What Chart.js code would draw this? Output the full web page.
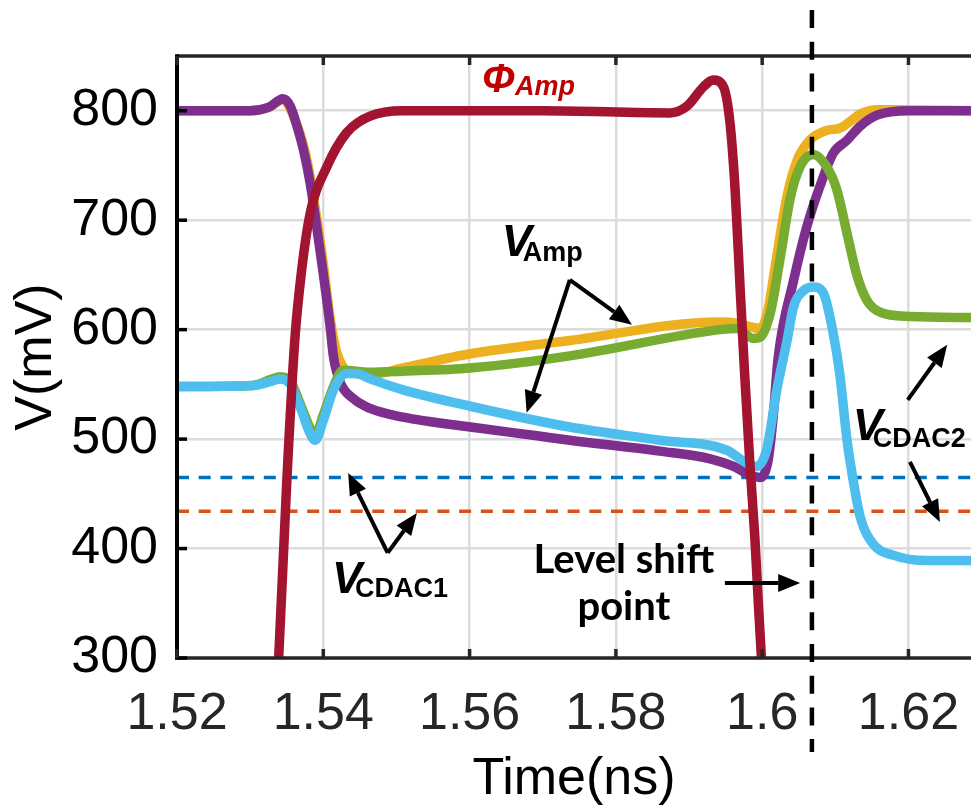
<!DOCTYPE html>
<html>
<head>
<meta charset="utf-8">
<script src="https://cdn.jsdelivr.net/npm/chart.js@4.4.1/dist/chart.umd.min.js"></script>
<style>
  html, body { margin: 0; padding: 0; background: #fff; overflow: hidden; }
  #wrap { width: 971px; height: 809px; }
</style>
</head>
<body>
<div id="wrap"><canvas id="chart"></canvas></div>
<script>
// axis ticks
const xTicks = [1.52, 1.54, 1.56, 1.58, 1.6, 1.62];
const xTickLabels = ["1.52", "1.54", "1.56", "1.58", "1.6", "1.62"];
const yTicks = [300, 400, 500, 600, 700, 800];

// waveforms, time in ns / voltage in mV
const phiT = [1.5330, 1.5339, 1.5350, 1.5361, 1.5370, 1.5382, 1.5405, 1.5432, 1.5464, 1.5509, 1.5700, 1.5874, 1.5897, 1.5920, 1.5933, 1.5947, 1.5956, 1.5963, 1.5970, 1.5976, 1.5983, 1.5990, 1.5995, 1.5999, 1.6004];
const phiV = [200, 300, 460, 590, 652, 706, 749, 780, 795, 800, 800, 798, 804, 822, 828, 822, 789, 728, 636, 560, 480, 410, 347, 300, 240];

const blueT = [1.52, 1.5304, 1.5330, 1.5341, 1.5355, 1.5368, 1.5382, 1.5389, 1.5400, 1.5414, 1.5432, 1.5445, 1.5464, 1.5509, 1.5601, 1.5737, 1.5860, 1.5951, 1.5979, 1.5992, 1.6006, 1.6020, 1.6034, 1.6043, 1.6057, 1.6070, 1.6084, 1.6097, 1.6106, 1.6116, 1.6125, 1.6134, 1.6152, 1.6179, 1.6225, 1.6290];
const blueV = [548, 549, 553, 555, 550, 530, 505, 499, 517, 545, 560, 560, 555, 545, 530, 511, 499, 490, 478, 475, 490, 545, 590, 621, 636, 639, 633, 597, 560, 499, 460, 429, 404, 394, 389, 389];

const greenT = [1.52, 1.5304, 1.5330, 1.5341, 1.5355, 1.5368, 1.5382, 1.5389, 1.5400, 1.5414, 1.5427, 1.5445, 1.5464, 1.5509, 1.5601, 1.5737, 1.5942, 1.5965, 1.5988, 1.5997, 1.6011, 1.6025, 1.6038, 1.6052, 1.6070, 1.6088, 1.6102, 1.6116, 1.6129, 1.6143, 1.6161, 1.6202, 1.6290];
const greenV = [548, 549, 555, 557, 553, 533, 510, 504, 522, 548, 563, 562, 561, 562, 565, 576, 600, 601, 592, 593, 615, 667, 719, 749, 760, 749, 728, 688, 651, 627, 616, 612, 611];

const purpleT = [1.52, 1.5300, 1.5325, 1.5345, 1.5355, 1.5364, 1.5373, 1.5382, 1.5391, 1.5400, 1.5409, 1.5414, 1.5423, 1.5441, 1.5464, 1.5509, 1.5601, 1.5692, 1.5737, 1.5860, 1.5929, 1.5961, 1.5984, 1.5997, 1.6008, 1.6015, 1.6022, 1.6043, 1.6061, 1.6079, 1.6097, 1.6116, 1.6134, 1.6157, 1.6202, 1.6290];
const purpleV = [800, 800, 803, 811, 804, 786, 764, 734, 694, 651, 605, 575, 552, 537, 528, 520, 511, 503, 499, 489, 482, 475, 467, 465, 480, 520, 575, 645, 694, 731, 761, 773, 786, 796, 800, 800];

const yellowT = [1.52, 1.5300, 1.5325, 1.5345, 1.5364, 1.5373, 1.5382, 1.5391, 1.5400, 1.5409, 1.5418, 1.5427, 1.5441, 1.5464, 1.5509, 1.5601, 1.5737, 1.5942, 1.5965, 1.5988, 1.5997, 1.6007, 1.6020, 1.6034, 1.6048, 1.6065, 1.6088, 1.6106, 1.6120, 1.6134, 1.6157, 1.6180, 1.6290];
const yellowV = [800, 800, 803, 810, 787, 768, 740, 702, 660, 612, 580, 566, 560, 559, 565, 578, 590, 607, 606, 602, 601, 615, 667, 722, 755, 773, 782, 784, 790, 797, 801, 801, 800];

// comparator reference levels (dashed)
const refT = [1.52, 1.6290];
const vcdac1Ref = [465, 465];
const vcdac2Ref = [434, 434];
const levelShiftT = 1.6068;

const pts = (t, v) => t.map((x, i) => ({ x: x, y: v[i] }));

const FONT = "'Liberation Sans', Arial, sans-serif";

function seg(ctx, x1, y1, x2, y2) {
  ctx.beginPath();
  ctx.moveTo(x1, y1);
  ctx.lineTo(x2, y2);
  ctx.stroke();
}

function arrow(ctx, x1, y1, x2, y2) {
  const ang = Math.atan2(y2 - y1, x2 - x1);
  const hl = 22, hw = 9;
  const bx = x2 - hl * Math.cos(ang), by = y2 - hl * Math.sin(ang);
  seg(ctx, x1, y1, bx, by);
  ctx.beginPath();
  ctx.moveTo(x2, y2);
  ctx.lineTo(bx + hw * Math.sin(ang), by - hw * Math.cos(ang));
  ctx.lineTo(bx - hw * Math.sin(ang), by + hw * Math.cos(ang));
  ctx.closePath();
  ctx.fill();
}

function subLabel(ctx, px, py, main, sub, mainFont, subFont, dx, dy) {
  ctx.textAlign = "left";
  ctx.textBaseline = "alphabetic";
  ctx.font = mainFont;
  ctx.fillText(main, px, py);
  ctx.font = subFont;
  ctx.fillText(sub, px + dx, py + dy);
}

const overlay = {
  id: "overlay",
  afterDatasetsDraw(chart) {
    const { ctx, chartArea: a, scales: { x, y } } = chart;
    ctx.save();

    // axes box
    ctx.strokeStyle = "#262626";
    ctx.lineWidth = 3.5;
    seg(ctx, a.left, a.top, a.right, a.top);
    seg(ctx, a.left, a.bottom, a.right, a.bottom);
    ctx.strokeStyle = "#000";
    ctx.lineWidth = 4;
    seg(ctx, a.left, a.top - 1.75, a.left, a.bottom + 1.75);

    // inward tick marks
    ctx.lineWidth = 3.5;
    yTicks.forEach((v) => seg(ctx, a.left, y.getPixelForValue(v), a.left + 10, y.getPixelForValue(v)));
    ctx.strokeStyle = "#262626";
    xTicks.forEach((v) => {
      const px = x.getPixelForValue(v);
      seg(ctx, px, a.top, px, a.top + 9);
      seg(ctx, px, a.bottom, px, a.bottom - 9);
    });

    // level shift marker
    const lx = x.getPixelForValue(levelShiftT);
    ctx.strokeStyle = "#000";
    ctx.lineWidth = 4.5;
    ctx.setLineDash([18, 13.7]);
    seg(ctx, lx, a.top - 46, lx, a.bottom + 94);
    ctx.setLineDash([]);

    // annotations
    const P = (t, v) => [x.getPixelForValue(t), y.getPixelForValue(v)];
    ctx.fillStyle = "#000";
    ctx.strokeStyle = "#000";
    ctx.lineWidth = 4;

    let p = P(1.5617, 817.4);
    ctx.fillStyle = "#C00000";
    subLabel(ctx, p[0], p[1], "\u03A6", "Amp", "italic bold 40px " + FONT, "italic bold 27px " + FONT, 33, 3);

    ctx.fillStyle = "#000";
    p = P(1.5644, 667.6);
    subLabel(ctx, p[0], p[1], "V", "Amp", "italic bold 45px " + FONT, "bold 27px " + FONT, 21, 5);
    p = P(1.5412, 359.4);
    subLabel(ctx, p[0], p[1], "V", "CDAC1", "italic bold 45px " + FONT, "bold 27px " + FONT, 23, 4);
    p = P(1.6124, 499.3);
    subLabel(ctx, p[0], p[1], "V", "CDAC2", "italic bold 45px " + FONT, "bold 27px " + FONT, 20, 7);

    ctx.font = "bold 40px Lato, 'Open Sans', sans-serif";
    ctx.textAlign = "center";
    p = P(1.5811, 377.7);
    ctx.fillText("Level shift", p[0], p[1]);
    p = P(1.5811, 334.7);
    ctx.fillText("point", p[0], p[1]);

    const arrows = [
      [1.5737, 645.5, 1.5822, 604.4],
      [1.5737, 645.5, 1.5678, 524.0],
      [1.5488, 396.0, 1.5434, 469.1],
      [1.5488, 396.0, 1.5528, 432.5],
      [1.5949, 368.6, 1.6052, 368.6],
      [1.6199, 535.8, 1.6253, 586.1],
      [1.6202, 479.2, 1.6243, 424.3],
    ];
    arrows.forEach((r) => {
      const s = P(r[0], r[1]), e = P(r[2], r[3]);
      arrow(ctx, s[0], s[1], e[0], e[1]);
    });

    ctx.restore();
  },
};

function curve(data, color) {
  return {
    data: data,
    borderColor: color,
    borderWidth: 9.5,
    pointRadius: 0,
    cubicInterpolationMode: "monotone",
    borderJoinStyle: "round",
    borderCapStyle: "round",
    fill: false,
    clip: 0,
  };
}

function refLine(data, color) {
  return {
    data: data,
    borderColor: color,
    borderWidth: 3.5,
    borderDash: [12, 9.7],
    pointRadius: 0,
    fill: false,
    clip: 0,
  };
}

new Chart(document.getElementById("chart"), {
  type: "line",
  data: {
    datasets: [
      curve(pts(phiT, phiV), "#A2142F"),
      curve(pts(blueT, blueV), "#4DBEEE"),
      curve(pts(greenT, greenV), "#77AC30"),
      curve(pts(purpleT, purpleV), "#7E2F8E"),
      curve(pts(yellowT, yellowV), "#EDB120"),
      refLine(pts(refT, vcdac1Ref), "#0072BD"),
      refLine(pts(refT, vcdac2Ref), "#D95319"),
    ],
  },
  options: {
    responsive: true,
    maintainAspectRatio: false,
    animation: false,
    events: [],
    layout: { padding: { top: 56, right: 0, left: 0, bottom: 0 } },
    plugins: { legend: { display: false }, tooltip: { enabled: false } },
    scales: {
      x: {
        type: "linear",
        min: 1.52,
        max: 1.62855,
        afterBuildTicks: (s) => { s.ticks = xTicks.map((v) => ({ value: v })); },
        afterFit: (s) => { s.height = 151; s.paddingLeft = 0; s.paddingRight = 0; },
        ticks: {
          autoSkip: false,
          maxRotation: 0,
          padding: 25,
          color: "#262626",
          font: { family: FONT, size: 52 },
          callback: (v, i) => xTickLabels[i],
        },
        grid: { color: "#dcdcdc", lineWidth: 2.5, drawTicks: false },
        border: { display: false },
        title: {
          display: true,
          text: "Time(ns)",
          color: "#000",
          font: { family: FONT, size: 52, lineHeight: 1 },
          padding: { top: 0, bottom: 3 },
        },
      },
      y: {
        type: "linear",
        min: 300,
        max: 850,
        afterBuildTicks: (s) => { s.ticks = yTicks.map((v) => ({ value: v })); },
        afterFit: (s) => { s.width = 177; s.paddingTop = 0; s.paddingBottom = 0; },
        ticks: {
          autoSkip: false,
          padding: 19,
          color: "#000",
          font: { family: FONT, size: 52 },
        },
        grid: { color: "#dcdcdc", lineWidth: 2.5, drawTicks: false },
        border: { display: false },
        title: {
          display: true,
          text: "V(mV)",
          color: "#000",
          font: { family: FONT, size: 52, lineHeight: 1 },
          padding: { top: 11, bottom: 0 },
        },
      },
    },
  },
  plugins: [overlay],
});
</script>
</body>
</html>
